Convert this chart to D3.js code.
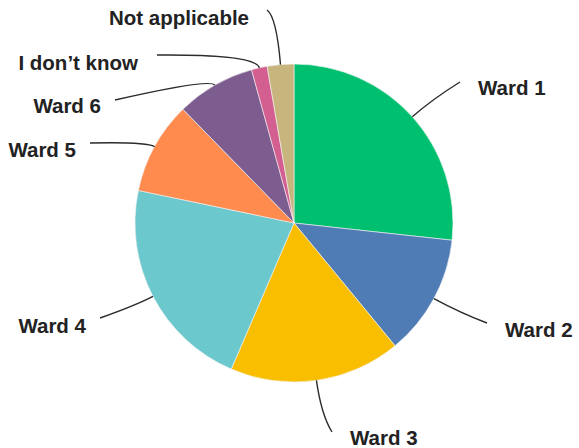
<!DOCTYPE html>
<html>
<head>
<meta charset="utf-8">
<script src="https://cdn.jsdelivr.net/npm/d3@7"></script>
<style>
  html, body { margin: 0; padding: 0; background: #fff; }
  svg { display: block; }
</style>
</head>
<body>
<svg id="chart" width="579" height="448"></svg>
<script>
// ---- data ----
const categories = ["Ward 1", "Ward 2", "Ward 3", "Ward 4", "Ward 5", "Ward 6", "I don't know", "Not applicable"];
const values     = [26.7, 12.3, 17.4, 21.8, 9.4, 8.0, 1.6, 2.7];
const colors     = ["#00BF6F", "#507CB6", "#F9BE00", "#6BC8CD", "#FF8B4F", "#7D5C90", "#D25F90", "#C8B57E"];
const displayLabels = ["Ward 1", "Ward 2", "Ward 3", "Ward 4", "Ward 5", "Ward 6", "I don\u2019t know", "Not applicable"];

// ---- layout (not data) ----
const cx = 294, cy = 223, R = 159;
// label anchor: x, baseline y, text-anchor; leader end point; leader bend extension
const labelLayout = {
  "Ward 1":         { x: 478, y: 95,  anchor: "start", ex: 460, ey: 82,  ext: 25 },
  "Ward 2":         { x: 505, y: 337, anchor: "start", ex: 487, ey: 323, ext: 30 },
  "Ward 3":         { x: 350, y: 445, anchor: "start", ex: 332, ey: 432, ext: 35 },
  "Ward 4":         { x: 86,  y: 333, anchor: "end",   ex: 100, ey: 318, ext: 20 },
  "Ward 5":         { x: 76,  y: 157, anchor: "end",   ex: 90,  ey: 143, ext: 10 },
  "Ward 6":         { x: 101, y: 113, anchor: "end",   ex: 115, ey: 100, ext: 8 },
  "I don't know":   { x: 138, y: 70,  anchor: "end",   ex: 157, ey: 55,  ext: 14 },
  "Not applicable": { x: 249, y: 25,  anchor: "end",   ex: 267, ey: 10,  ext: 48 }
};

const data = categories.map((c, i) => ({ cat: c, label: displayLabels[i], value: values[i], color: colors[i] }));

const svg = d3.select("#chart");
const g = svg.append("g").attr("transform", `translate(${cx},${cy})`);

const pie = d3.pie().value(d => d.value).sort(null);
const arc = d3.arc().innerRadius(0).outerRadius(R);
const arcs = pie(data);

g.selectAll("path.slice")
  .data(arcs)
  .enter().append("path")
  .attr("class", "slice")
  .attr("d", arc)
  .attr("fill", d => d.data.color)
  .attr("stroke", "#f4f4f4")
  .attr("stroke-width", 0.6);

// leader lines
function pt(angle, r) { return [r * Math.sin(angle), -r * Math.cos(angle)]; }

g.selectAll("path.leader")
  .data(arcs)
  .enter().append("path")
  .attr("class", "leader")
  .attr("fill", "none")
  .attr("stroke", "#2b2b2b")
  .attr("stroke-width", 1.4)
  .attr("d", d => {
    const L = labelLayout[d.data.cat];
    const mid = (d.startAngle + d.endAngle) / 2;
    const s = pt(mid, R);
    const c = pt(mid, R + L.ext);
    const e = [L.ex - cx, L.ey - cy];
    return `M${s[0]},${s[1]} Q${c[0]},${c[1]} ${e[0]},${e[1]}`;
  });

// labels
svg.selectAll("text.lbl")
  .data(data)
  .enter().append("text")
  .attr("class", "lbl")
  .attr("x", d => labelLayout[d.cat].x)
  .attr("y", d => labelLayout[d.cat].y)
  .attr("text-anchor", d => labelLayout[d.cat].anchor)
  .attr("font-family", "'Liberation Sans', Arial, sans-serif")
  .attr("font-weight", 700)
  .attr("font-size", "20.5px")
  .attr("fill", "#222")
  .text(d => d.label);
</script>
</body>
</html>
